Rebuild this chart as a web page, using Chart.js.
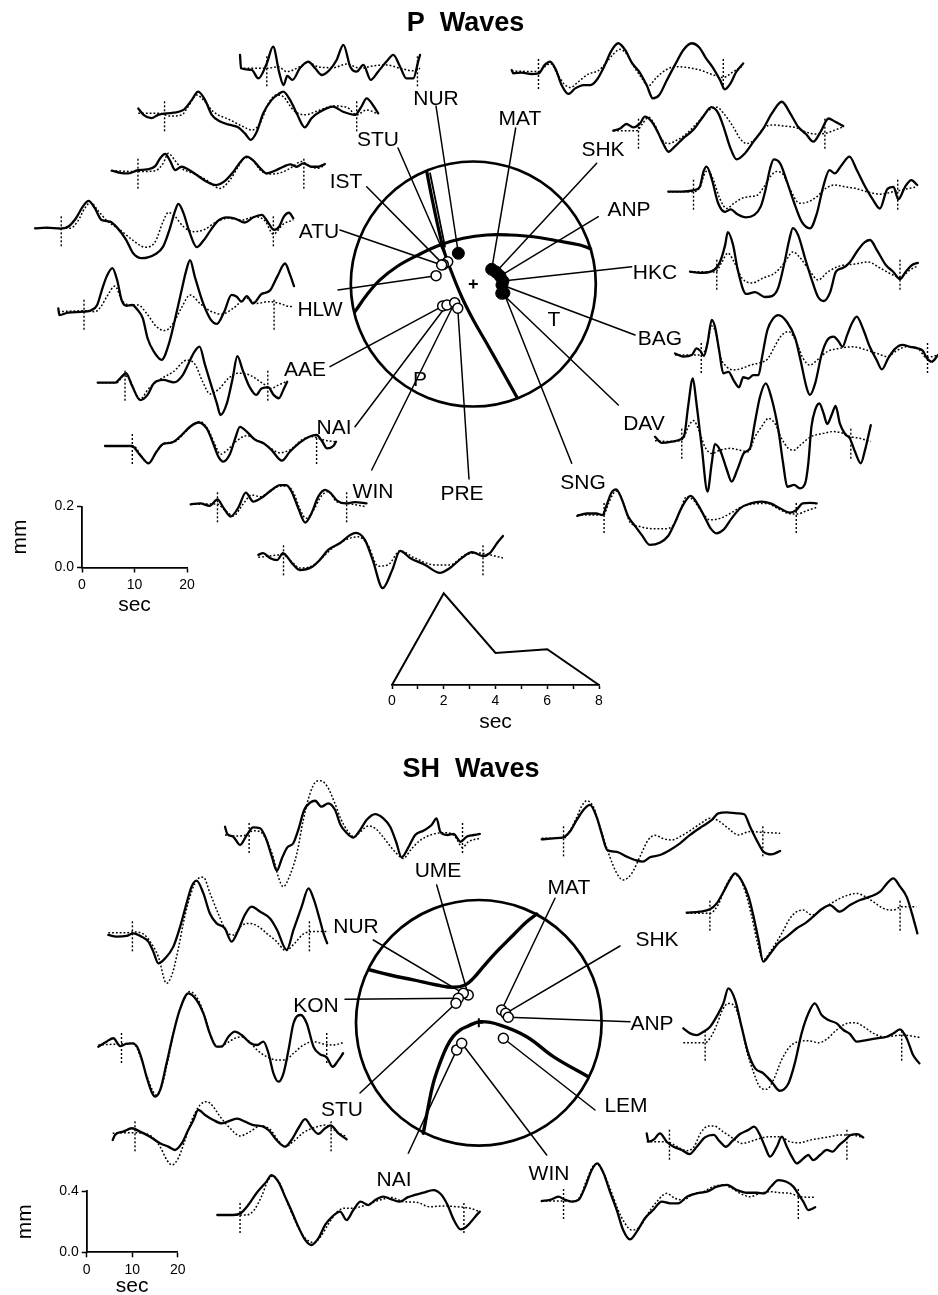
<!DOCTYPE html>
<html lang="en">
<head>
<meta charset="utf-8">
<title>P and SH waveform fits</title>
<script src="https://cdn.jsdelivr.net/npm/chart.js@4.4.1/dist/chart.umd.min.js"></script>
<style>
  html, body { margin:0; padding:0; background:#fff; }
  #page { position:relative; width:938px; height:1295px; overflow:hidden; background:#fff; }
  .layer { position:absolute; }
  canvas { display:block; }
</style>
</head>
<body>
<div id="page"></div>
<script>
const FONT = "'Liberation Sans', Arial, Helvetica, sans-serif";

// ---------------- P waves: stations, first motions, focal-sphere positions ----------------
const pStations   = ['NUR','STU','IST','ATU','HLW','AAE','NAI','WIN','PRE','MAT','SHK','ANP','HKC','BAG','DAV','SNG'];
const pFirstMotion = ['c','d','d','d','d','d','d','d','d','c','c','c','c','c','c','c'];
const pSphereU = [-0.122,-0.209,-0.245,-0.258,-0.304,-0.250,-0.215,-0.152,-0.127, 0.150, 0.185, 0.218, 0.242, 0.234, 0.232, 0.250];
const pSphereV = [ 0.251, 0.182, 0.160, 0.155, 0.068,-0.180,-0.171,-0.153,-0.198, 0.120, 0.098, 0.065, 0.024,-0.008,-0.076,-0.073];
// inversion window (s after trace start)
const pWinStart = [5.1,5.0,5.0,5.0,4.9,5.2,5.2,5.1,4.8,5.1,4.8,4.8,5.1,5.0,5.1,5.1];
const pWinEnd   = [33.8,41.6,36.6,45.4,41.1,32.4,40.3,29.7,42.8,40.3,40.3,43.7,40.0,48.1,37.3,41.7];

// P nodal planes, unit-radius projection coordinates [east, north]
const pPlaneA = [[-0.966,-0.226],[-0.870,-0.090],[-0.762,0.033],[-0.625,0.141],[-0.462,0.231],[-0.272,0.318],[-0.082,0.373],[0.109,0.400],[0.300,0.400],[0.490,0.386],[0.681,0.353],[0.871,0.318],[0.958,0.287]];
const pPlaneB = [[-0.380,0.917],[-0.340,0.713],[-0.294,0.496],[-0.245,0.291],[-0.184,0.114],[-0.095,-0.104],[0,-0.294],[0.109,-0.484],[0.232,-0.702],[0.354,-0.920]];
const pPlaneB2 = [[-0.353,0.904],[-0.231,0.305]];

// P seismograms: [time (s), displacement (mm)]; obs = observed, syn = synthetic
const pObsNUR = [[0,0.044],[0.2,0],[2.2,-0.005],[3.5,-0.033],[5.1,0.016],[6.3,0.071],[7.5,-0.016],[8.3,-0.055],[9.0,-0.025],[10.0,-0.038],[11.4,0],[13.0,0.022],[14.3,0],[15.6,-0.022],[17.1,-0.005],[18.4,0.027],[19.7,0.077],[21.0,0.005],[22.2,-0.011],[23.5,0.011],[24.9,-0.038],[26.3,-0.011],[27.9,0.022],[29.2,0.044],[30.5,0.005],[31.7,-0.033],[33.0,-0.033],[34.0,0.027],[34.3,0.044]];
const pSynNUR = [[0,0],[5.1,0],[7.3,0.005],[8.9,-0.011],[11.4,0.005],[13.0,0.019],[14.9,0.005],[17.8,0.002],[20.3,0.014],[22.9,0],[25.4,0.008],[27.9,0.011],[30.5,0],[33.0,-0.008],[34.3,0]];
const pObsSTU = [[0,0.016],[1.0,-0.005],[2.5,-0.016],[3.8,-0.005],[6.7,0.002],[8.6,0.011],[10.2,0.044],[11.4,0.071],[12.7,0.044],[14.0,-0.005],[15.6,-0.027],[17.5,-0.038],[19.0,-0.046],[20.3,-0.066],[21.4,-0.087],[22.5,-0.063],[23.8,0],[25.4,0.044],[26.7,0.063],[27.6,0.071],[28.9,0.044],[30.3,-0.005],[31.7,-0.046],[33.0,-0.016],[34.6,0.005],[37.1,0.022],[39.0,0.005],[41.3,-0.005],[42.5,0.022],[43.5,0.049],[44.8,0.024],[45.7,0]];
const pSynSTU = [[0,0],[4.1,0],[6.0,-0.009],[8.3,-0.005],[9.5,0.022],[11.1,0.060],[12.4,0.044],[14.3,0.005],[17.5,-0.022],[20.0,-0.044],[21.6,-0.055],[23.2,-0.033],[24.8,0.033],[26.3,0.060],[27.6,0.055],[29.5,0.011],[31.7,-0.005],[34.6,0.011],[37.1,0.024],[39.7,0.020],[41.6,-0.005],[43.5,0.011],[45.4,0]];
const pObsIST = [[0,0],[1.6,-0.007],[3.2,-0.009],[5.0,0.002],[6.7,0.004],[8.3,0.015],[9.2,0.040],[10.2,0.055],[11.1,0.033],[12.1,0.002],[13.3,0.013],[14.6,0.004],[16.2,-0.014],[18.1,-0.036],[19.9,-0.047],[21.4,-0.036],[23.2,-0.003],[24.6,0.030],[25.7,0.046],[27.0,0.033],[28.3,0.008],[29.5,-0.009],[31.1,0],[32.7,0.013],[34.0,0.021],[35.2,0.013],[36.5,0.024],[38.1,0.013],[39.4,0.013],[40.6,0.022]];
const pSynIST = [[0,0],[5.1,-0.003],[8.3,0],[9.8,0.024],[10.8,0.057],[11.9,0.037],[13.3,0.008],[15.6,-0.009],[18.1,-0.031],[20.6,-0.058],[22.5,-0.031],[24.1,0.013],[25.4,0.043],[26.7,0.037],[28.3,0.002],[29.8,-0.011],[32.1,-0.007],[34.0,0.008],[36.2,0.030],[37.8,0.013],[39.4,0.008],[40.6,0.019]];
const pObsATU = [[0,0],[2.2,0.002],[4.8,-0.001],[6.3,0.005],[7.8,0.033],[9.1,0.071],[10.2,0.090],[11.4,0.066],[12.7,0.027],[14.3,0.022],[15.6,0.003],[17.3,-0.036],[18.7,-0.082],[20.3,-0.098],[22.9,-0.085],[24.4,-0.060],[25.7,0],[26.7,0.058],[27.3,0.080],[28.3,0.049],[29.4,-0.011],[30.8,-0.062],[32.1,-0.040],[33.5,-0.005],[34.9,0.025],[36.5,0.036],[38.1,0.032],[40.0,0.019],[41.6,0.036],[43.2,0.044],[44.4,0.019],[45.5,-0.005],[46.5,0.005],[47.4,0.038],[48.4,0.051],[49.2,0.033]];
const pSynATU = [[0,0],[6.7,0],[8.1,0.022],[9.5,0.066],[10.6,0.085],[11.9,0.060],[13.7,0.025],[16.2,-0.005],[18.7,-0.040],[21.0,-0.062],[22.9,-0.044],[24.4,0.022],[25.4,0.052],[26.7,0.038],[28.3,0.005],[30.2,-0.011],[32.4,-0.003],[34.3,0.019],[36.8,0.033],[39.4,0.027],[41.9,0.038],[43.8,0.025],[45.4,-0.019],[47.3,0.014],[49.2,0.027]];
const pObsHLW = [[0,0.011],[0.2,-0.011],[1.9,-0.003],[4.8,0],[6.3,0.005],[7.4,0.022],[8.3,0.071],[9.2,0.115],[10.3,0.143],[11.2,0.104],[12.1,0.036],[13.0,0.019],[14.1,0.022],[15.0,0.008],[16.1,-0.022],[17.0,-0.087],[18.2,-0.131],[19.7,-0.158],[21.0,-0.109],[22.2,-0.027],[23.5,0.071],[24.4,0.137],[25.1,0.169],[26.0,0.115],[27.6,0.027],[29.0,-0.025],[30.2,-0.040],[31.6,0],[33.0,0.055],[34.0,0.049],[34.9,0.033],[35.9,0.051],[37.1,0.027],[38.7,0.058],[40.3,0.069],[41.7,0.115],[43.2,0.158],[44.1,0.123],[44.9,0.084]];
const pSynHLW = [[0,0],[4.8,0.003],[7.0,0],[8.1,0.016],[9.3,0.051],[10.8,0.084],[12.1,0.038],[13.7,0.022],[15.2,0.022],[16.8,-0.005],[18.7,-0.049],[20.3,-0.062],[21.9,-0.038],[23.5,0.014],[25.1,0.055],[27.0,0.027],[28.9,0.003],[31.1,-0.008],[33.3,0.011],[35.9,0.044],[37.8,0.027],[40.0,0.033],[42.2,0.027],[43.5,0.019],[44.8,0.016]];
const pObsAAE = [[0,0],[3.3,0],[4.4,0.017],[5.4,0.031],[6.5,-0.008],[8.1,-0.057],[9.5,-0.040],[10.7,-0.002],[12.5,0.009],[14.5,0.001],[16.2,0.025],[17.3,0.063],[18.3,0.098],[19.4,0.118],[20.4,0.061],[21.7,-0.013],[22.7,-0.068],[23.4,-0.106],[24.6,-0.068],[25.7,0.014],[26.6,0.087],[27.6,0.042],[28.9,-0.013],[30.2,-0.040],[31.2,-0.019],[32.5,-0.015],[33.5,-0.040],[34.5,-0.051],[35.4,-0.022],[36.1,0.003]];
const pSynAAE = [[0,0],[3.6,0],[5.0,0.022],[6.0,0.014],[7.1,-0.030],[8.1,-0.054],[9.7,-0.019],[11.9,0.011],[14.4,0.036],[17.0,0.074],[18.5,0.061],[20.0,0.003],[21.4,-0.037],[23.0,-0.022],[24.9,0.014],[26.6,0.031],[28.5,0.028],[31.6,-0.004],[33.0,-0.019],[34.4,-0.008],[36.1,0.005]];
const pObsNAI = [[0,0],[5.1,0],[6.7,-0.030],[8.3,-0.057],[9.8,-0.019],[11.1,0.007],[12.7,0.011],[14.6,0.036],[16.2,0.063],[17.8,0.077],[19.4,0.057],[20.6,0.009],[21.6,-0.035],[22.5,-0.051],[23.8,-0.026],[24.8,0.025],[25.7,0.063],[27.0,0.047],[28.6,0.020],[30.2,0.009],[31.7,-0.013],[33.7,-0.048],[35.2,-0.019],[37.1,0.011],[39.0,0.031],[40.3,0.036],[41.3,0.017],[42.3,-0.008],[43.5,0],[44.0,0.014]];
const pSynNAI = [[0,0],[5.4,0],[7.0,-0.035],[8.3,-0.055],[9.8,-0.019],[11.4,0.009],[13.3,0.014],[15.2,0.044],[17.0,0.072],[18.1,0.080],[19.7,0.052],[21.0,0.003],[22.0,-0.027],[23.3,-0.013],[25.1,0.017],[27.0,0.034],[28.9,0.020],[31.1,-0.002],[33.3,-0.022],[35.4,-0.011],[37.5,0.020],[39.4,0.031],[41.0,0.023],[42.5,0.017],[44.0,0.014]];
const pObsWIN = [[0,0],[1.8,0.003],[3.6,-0.005],[5.1,0.016],[6.2,-0.010],[7.6,-0.040],[9.1,-0.010],[10.5,0.038],[11.9,0.009],[13.8,0.025],[15.4,0.047],[17.0,0.063],[18.2,0.063],[19.2,0.042],[20.5,-0.013],[21.8,-0.060],[23.0,-0.030],[24.3,0.025],[25.6,0.047],[26.7,0.036],[27.9,0.012],[29.4,0.003],[31.3,0.007],[33.5,0.003]];
const pSynWIN = [[0,0],[5.0,0.001],[6.5,-0.019],[8.1,-0.038],[10.0,0.001],[11.6,0.031],[13.2,0.025],[15.1,0.042],[17.1,0.060],[18.4,0.060],[19.7,0.034],[20.8,-0.016],[22.0,-0.046],[23.4,-0.019],[24.8,0.025],[26.2,0.042],[27.8,0.009],[29.7,0.003],[33.5,-0.008]];
const pObsPRE = [[0,0.008],[0.9,0.014],[2.2,-0.002],[3.6,-0.009],[4.7,0.014],[6.4,-0.019],[7.9,-0.042],[10.2,-0.032],[11.7,-0.009],[13.3,0.024],[15.6,0.047],[17.5,0.073],[18.6,0.080],[20.3,0.057],[21.8,-0.009],[23.7,-0.101],[25.5,-0.042],[27.0,0.021],[28.9,-0.002],[31.8,-0.025],[34.6,-0.051],[36.5,-0.035],[38.8,-0.002],[40.7,0.017],[42.8,0.004],[44.1,0.014],[45.5,0.047],[46.6,0.070]];
const pSynPRE = [[0,0],[4.7,0.008],[6.4,-0.015],[7.9,-0.035],[10.2,-0.029],[12.1,-0.002],[14.6,0.037],[17.5,0.063],[19.0,0.067],[20.9,0.040],[22.8,-0.029],[24.7,-0.025],[27.0,0.021],[29.8,-0.002],[33.6,-0.025],[36.5,-0.025],[39.4,0.008],[42.2,0.014],[45.1,0.004],[46.6,-0.002]];
const pObsMAT = [[0,0.003],[0.3,-0.008],[1.9,-0.005],[3.8,-0.010],[5.1,-0.008],[6.3,0.020],[7.3,0.031],[8.4,0.005],[9.5,-0.046],[10.8,-0.075],[12.1,-0.057],[13.7,-0.046],[15.0,-0.046],[16.3,-0.027],[17.6,0.014],[19.0,0.067],[20.3,0.091],[21.6,0.069],[22.9,0.027],[24.4,-0.005],[25.7,-0.046],[26.9,-0.090],[28.1,-0.079],[29.5,-0.032],[31.1,0.020],[32.7,0.069],[34.3,0.091],[35.7,0.078],[37.0,0.042],[38.4,0.009],[39.7,-0.030],[40.6,-0.060],[41.7,-0.040],[42.7,-0.005],[44.1,0.025]];
const pSynMAT = [[0,0],[5.1,-0.002],[6.3,0.014],[7.4,0.025],[8.7,-0.010],[10.0,-0.043],[11.2,-0.054],[12.7,-0.035],[14.6,-0.010],[16.5,0.001],[18.0,0.027],[19.4,0.056],[20.6,0.071],[21.9,0.056],[23.3,0.014],[24.8,-0.024],[26.0,-0.049],[27.6,-0.021],[29.5,0.005],[31.4,0.014],[33.7,0.011],[35.9,0.003],[38.4,-0.013],[40.3,-0.021],[42.2,-0.002],[43.8,0.014]];
const pObsSHK = [[0,0],[1.3,0.007],[2.5,0.022],[3.8,0.011],[5.1,0.024],[6.0,0.046],[7.3,0.030],[8.6,-0.009],[9.5,-0.042],[10.5,-0.069],[11.7,-0.052],[13.3,-0.025],[15.2,0.002],[17.1,0.046],[18.7,0.077],[20.0,0.057],[21.1,0.008],[22.2,-0.052],[23.5,-0.094],[25.1,-0.074],[26.7,-0.036],[28.6,0.008],[30.2,0.057],[32.1,0.095],[33.7,0.057],[35.2,0.013],[36.7,-0.011],[38.1,-0.036],[39.5,-0.003],[41.0,0.040],[42.2,0.030],[43.8,0.015]];
const pSynSHK = [[0,0],[4.4,0],[5.7,0.026],[6.7,0.044],[7.9,0.019],[9.2,-0.028],[10.5,-0.042],[12.1,-0.031],[14.0,-0.009],[16.2,0.030],[18.1,0.066],[19.7,0.077],[21.1,0.055],[22.9,0.011],[24.1,-0.025],[25.4,-0.042],[27.0,-0.028],[28.6,0.008],[30.5,0.019],[32.7,0.015],[34.6,0.011],[36.5,-0.003],[38.4,-0.011],[40.3,-0.009],[42.2,0.002],[43.8,0.013]];
const pObsANP = [[0,0],[2.5,0],[4.9,0.005],[6.0,0.016],[6.7,0.066],[7.3,0.082],[8.3,0.040],[9.5,-0.038],[10.8,-0.066],[11.9,-0.058],[13.1,-0.073],[14.8,-0.084],[16.3,-0.077],[17.6,-0.049],[18.5,0.005],[19.4,0.077],[20.1,0.106],[21.3,0.093],[22.5,0.038],[23.9,-0.033],[25.4,-0.098],[27.0,-0.120],[28.3,-0.071],[29.5,0.016],[30.7,0.071],[31.7,0.060],[33.0,0.087],[34.5,0.115],[35.9,0.071],[37.5,0.016],[39.0,-0.027],[40.3,-0.055],[41.7,0.008],[42.9,0.016],[43.8,-0.025],[45.1,0.016],[46.3,0.038],[47.4,0.022]];
const pSynANP = [[0,0],[4.8,0],[6.0,0.014],[7.0,0.062],[7.6,0.069],[8.6,0.038],[9.8,-0.022],[11.1,-0.055],[12.5,-0.038],[14.0,-0.022],[15.6,-0.016],[17.0,-0.011],[18.2,0.016],[19.5,0.051],[20.6,0.066],[21.8,0.058],[23.2,0.008],[25.0,-0.038],[26.7,-0.033],[28.3,-0.016],[30.0,0.011],[31.7,0.022],[33.7,0.016],[35.6,0.011],[37.8,0],[40.3,-0.008],[42.9,0],[45.1,0.008],[47.4,0.016]];
const pObsHKC = [[0,0],[1.9,-0.004],[4.2,0.002],[5.7,0.032],[6.7,0.088],[7.2,0.130],[8.2,0.088],[9.1,0.006],[10.7,-0.073],[12.4,-0.067],[14.3,-0.083],[15.6,-0.080],[16.8,-0.053],[17.9,0.022],[18.9,0.104],[19.6,0.143],[20.6,0.120],[21.9,0.045],[23.2,-0.027],[24.4,-0.083],[25.5,-0.096],[26.7,-0.067],[27.8,0],[29.1,0.012],[30.5,0.032],[32.0,0.071],[33.3,0.097],[34.3,0.104],[35.6,0.071],[37.3,0.022],[38.7,0],[40.0,-0.024],[41.1,0],[42.3,0.022],[43.4,0.029]];
const pSynHKC = [[0,0],[4.8,-0.001],[6.1,0.032],[7.2,0.061],[8.4,0.032],[9.9,-0.021],[11.8,-0.037],[13.9,-0.021],[16.2,-0.004],[18.1,0.032],[19.6,0.065],[21.0,0.045],[22.9,0],[24.4,-0.027],[26.3,0],[28.6,0.019],[31.4,0.025],[33.9,0.032],[36.2,0.012],[38.7,-0.011],[40.0,-0.018],[41.9,0.006],[43.4,0.019]];
const pObsBAG = [[0,0.005],[1.6,-0.005],[3.2,0],[4.1,0.022],[4.8,0.014],[5.5,-0.003],[6.2,0.040],[7.0,0.115],[7.6,0.093],[8.4,0.016],[9.2,-0.060],[10.2,-0.055],[11.2,-0.084],[12.2,-0.106],[13.0,-0.073],[14.0,-0.077],[14.9,-0.066],[15.9,-0.066],[16.6,-0.005],[17.6,0.082],[18.7,0.120],[19.7,0.131],[21.3,0.109],[22.9,0.055],[23.9,-0.016],[25.1,-0.109],[25.7,-0.131],[26.7,-0.093],[27.9,0],[29.0,0.049],[30.2,0.060],[31.1,0.046],[31.9,0.027],[32.8,0.066],[33.7,0.104],[34.6,0.126],[35.9,0.082],[37.1,0.027],[38.4,-0.016],[39.4,-0.047],[40.6,-0.011],[41.9,0.020],[43.3,0.033],[44.8,0.027],[46.2,0.022],[47.2,0.014],[47.9,-0.008],[48.9,-0.022],[50.1,0]];
const pSynBAG = [[0,0],[4.8,0],[6.0,0.025],[7.0,0.095],[7.8,0.071],[8.6,-0.003],[9.8,-0.038],[11.2,-0.049],[12.7,-0.044],[14.4,-0.033],[16.2,-0.025],[17.6,-0.014],[18.9,0.025],[20.1,0.060],[21.6,0.077],[23.0,0.047],[24.4,-0.011],[25.7,-0.033],[27.1,-0.016],[29.0,0.011],[31.4,0.022],[34.0,0.027],[36.5,0.016],[38.5,0.005],[40.4,-0.005],[42.2,0.014],[44.1,0.027],[46.2,0.022],[47.9,-0.008],[50.1,0]];
const pObsDAV = [[0,0.013],[1.3,-0.007],[3.2,-0.003],[4.8,0.004],[5.6,0.019],[6.3,0.111],[7.2,0.204],[7.9,0.122],[8.9,-0.020],[10.0,-0.167],[10.8,-0.074],[11.4,-0.011],[12.4,-0.031],[13.7,-0.096],[14.6,-0.134],[15.7,-0.094],[17.0,-0.039],[18.1,-0.025],[19.0,0.057],[20.0,0.144],[21.1,0.188],[22.2,0.139],[23.5,0.035],[24.4,-0.074],[25.2,-0.151],[26.5,-0.145],[27.6,-0.156],[28.6,-0.140],[29.2,-0.074],[29.8,0.046],[30.5,0.101],[31.3,0.122],[32.1,0.090],[32.8,0.055],[33.7,0.087],[34.4,0.114],[35.2,0.057],[36.2,0.022],[37.1,0.008],[38.1,-0.036],[39.2,-0.074],[40.0,-0.031],[40.6,0.013],[41.1,0.051]];
const pSynDAV = [[0,0],[3.5,-0.003],[5.4,0.008],[6.3,0.044],[7.3,0.066],[8.3,0.037],[9.5,-0.020],[10.8,-0.042],[12.4,-0.031],[14.3,-0.025],[16.2,-0.031],[17.8,-0.036],[19.0,0.011],[20.3,0.046],[21.6,0.073],[22.9,0.055],[24.1,0.008],[25.4,-0.025],[26.5,-0.031],[27.7,-0.014],[29.7,0.013],[32.1,0.024],[34.0,0.030],[35.9,0.024],[37.3,0.013],[39.0,0.008],[41.1,-0.003]];
const pObsSNG = [[0,-0.003],[1.8,0.005],[3.6,0.005],[4.8,0],[5.6,0.033],[6.5,0.073],[7.4,0.084],[8.4,0.055],[9.7,-0.005],[11.0,-0.036],[12.3,-0.066],[13.8,-0.098],[15.7,-0.091],[17.3,-0.069],[18.6,-0.025],[19.9,0.025],[21.6,0.063],[23.0,0.033],[24.3,-0.008],[25.4,-0.044],[26.5,-0.060],[27.8,-0.049],[29.4,-0.011],[31.0,0.022],[33.0,0.038],[35.1,0.044],[36.8,0.038],[38.6,0.022],[40.5,0.008],[41.7,0.016],[42.9,0.038],[44.3,0.040],[45.6,0.038]];
const pSynSNG = [[0,0],[5.0,0],[5.9,0.036],[6.9,0.071],[7.6,0.079],[8.8,0.038],[10.0,-0.022],[11.9,-0.038],[14.5,-0.045],[16.7,-0.045],[18.3,-0.033],[19.6,0.014],[20.8,0.060],[22.1,0.049],[23.7,0.011],[25.3,-0.016],[27.2,-0.011],[29.1,0.005],[31.1,0.025],[33.5,0.036],[36.1,0.038],[38.1,0.022],[40.2,0.005],[41.8,0.003],[43.7,0.014],[45.6,0.025]];

// ---------------- SH waves ----------------
const shStations = ['UME','NUR','KON','STU','NAI','MAT','SHK','ANP','LEM','WIN'];
const shSphereU = [-0.086,-0.126,-0.167,-0.186,-0.180, 0.186, 0.219, 0.240, 0.200,-0.139];
const shSphereV = [ 0.226, 0.240, 0.200, 0.159,-0.221, 0.104, 0.077, 0.045,-0.126,-0.167];
const shWinStart = [5.3,5.3,5.1,4.9,5.0,4.8,5.1,4.8,5.0,4.8];
const shWinEnd   = [52.2,44.2,50.2,48.0,54.2,48.6,46.9,48.0,44.0,56.4];

// SH nodal curves [east, north]
const shPlaneUpper = [[-0.886,0.430],[-0.723,0.389],[-0.533,0.349],[-0.343,0.308],[-0.208,0.289],[-0.112,0.308],[-0.045,0.362],[0.037,0.457],[0.146,0.579],[0.281,0.715],[0.390,0.823],[0.472,0.886]];
const shPlaneLower = [[-0.452,-0.900],[-0.414,-0.696],[-0.371,-0.493],[-0.316,-0.327],[-0.261,-0.195],[-0.210,-0.113],[-0.153,-0.059],[-0.099,-0.032],[0.010,0.009],[0.173,-0.018],[0.390,-0.113],[0.607,-0.275],[0.892,-0.439]];

const shObsUME = [[0,0.054],[0.5,0.007],[1.8,-0.011],[3.3,-0.065],[4.8,0],[6.2,0.050],[7.7,0.044],[9.0,-0.022],[10.3,-0.142],[11.4,-0.233],[12.5,-0.153],[13.7,-0.081],[15.0,-0.054],[16.1,0.033],[17.4,0.163],[18.7,0.211],[19.8,0.224],[21.2,0.185],[22.7,0.207],[24.2,0.163],[25.4,0.065],[26.7,0.015],[28.2,-0.017],[29.7,0.033],[31.1,0.098],[33.0,0.137],[34.8,0.109],[36.3,0.054],[37.6,-0.044],[38.8,-0.146],[40.3,-0.081],[41.8,0],[43.6,0.028],[45.4,0.065],[46.5,0.109],[47.3,0.022],[48.9,0],[50.2,0.007],[51.8,-0.044],[53.1,-0.011],[54.6,0],[56.0,0.007]];
const shSynUME = [[0,0],[2.6,-0.007],[4.8,0.002],[6.2,0.028],[7.7,0.022],[9.2,-0.037],[10.6,-0.146],[11.7,-0.272],[12.8,-0.338],[14.3,-0.261],[15.8,-0.120],[17.2,0.098],[18.7,0.272],[20.0,0.349],[21.0,0.355],[22.5,0.316],[24.0,0.218],[25.4,0.109],[26.9,0.028],[28.4,-0.011],[29.8,0.022],[31.5,0.059],[33.0,0.044],[34.4,0],[36.1,-0.065],[37.7,-0.120],[39.2,-0.153],[40.8,-0.098],[42.5,-0.044],[44.3,-0.011],[46.5,0.011],[48.7,0.015],[50.5,-0.007],[52.2,-0.081],[53.5,-0.044],[56.0,-0.022]];
const shObsNUR = [[0,-0.011],[1.8,-0.022],[4.0,-0.017],[5.5,0],[7.3,-0.022],[8.8,-0.054],[9.9,-0.120],[11.0,-0.196],[12.5,-0.163],[14.3,-0.087],[15.8,0.044],[17.2,0.196],[18.3,0.305],[19.4,0.344],[20.9,0.261],[22.3,0.131],[23.8,0.065],[25.6,0.033],[27.1,-0.054],[28.6,0.022],[30.0,0.120],[31.5,0.174],[33.3,0.142],[35.5,0.098],[37.1,0.022],[39.2,-0.109],[40.7,0.022],[42.5,0.174],[44.0,0.294],[45.2,0.218],[46.5,0.087],[47.3,0],[48.1,-0.065]];
const shSynNUR = [[0,0.004],[4.0,0.004],[5.5,0.009],[7.7,-0.004],[9.2,-0.054],[11.0,-0.153],[12.8,-0.327],[14.1,-0.261],[15.4,-0.098],[16.8,0.109],[18.3,0.272],[19.8,0.359],[20.9,0.366],[22.3,0.266],[24.2,0.126],[26.0,0.011],[27.5,-0.011],[29.3,0.050],[31.1,0.065],[33.0,0.044],[34.8,0],[37.0,-0.054],[39.0,-0.113],[40.8,-0.070],[42.9,-0.004],[45.1,0.011],[48.1,0.011]];
const shObsKON = [[0,-0.011],[1.8,0.022],[3.3,0.044],[4.8,-0.007],[6.1,0.007],[7.5,0.011],[8.6,-0.015],[9.5,-0.087],[10.6,-0.207],[11.7,-0.305],[12.5,-0.338],[13.6,-0.294],[15.0,-0.120],[16.5,0.076],[17.9,0.229],[19.8,0.338],[21.6,0.294],[23.1,0.207],[24.5,0.076],[26.0,-0.011],[27.1,-0.011],[28.6,0.054],[30.0,0.087],[31.5,0.065],[33.5,0.011],[34.9,0],[36.3,0.022],[37.4,-0.054],[38.5,-0.185],[39.6,-0.240],[40.7,-0.185],[41.8,-0.033],[42.9,0.142],[44.5,0.196],[45.8,0.142],[47.3,-0.011],[48.7,-0.059],[50.2,-0.081],[51.5,-0.142],[52.7,-0.102],[53.8,-0.054]];
const shSynKON = [[0,0],[4.8,0.007],[7.7,0.011],[9.2,-0.072],[10.6,-0.196],[11.7,-0.283],[12.7,-0.327],[13.9,-0.272],[15.4,-0.087],[16.8,0.120],[18.3,0.261],[20.1,0.349],[22.0,0.294],[23.4,0.185],[24.9,0.044],[26.4,-0.011],[28.2,0.011],[30.0,0.044],[31.5,0.054],[33.2,0.022],[34.9,-0.033],[37.0,-0.076],[39.2,-0.098],[41.0,-0.098],[42.9,-0.054],[45.1,0],[47.3,0.022],[49.5,0.007],[51.6,0],[53.8,0.015]];
const shObsSTU = [[0,-0.044],[0.5,-0.011],[2.3,0.011],[4.2,0.033],[6.0,0.011],[8.2,-0.022],[10.4,-0.065],[12.2,-0.087],[13.7,-0.109],[15.2,-0.065],[16.6,0.022],[17.7,0.083],[18.8,0.153],[20.3,0.120],[22.1,0.087],[24.0,0.065],[25.8,0.083],[27.4,0.096],[29.1,0.076],[30.9,0.054],[33.1,0.044],[34.4,0.017],[36.0,-0.044],[37.9,-0.087],[39.3,-0.044],[40.8,0.033],[42.3,0.092],[43.7,0.039],[45.2,-0.004],[46.7,0.033],[47.9,0.052],[49.6,0],[51.4,-0.039]];
const shSynSTU = [[0,0],[3.1,0.004],[6.7,0],[8.6,-0.022],[10.4,-0.087],[11.9,-0.174],[13.0,-0.207],[14.4,-0.163],[15.9,-0.044],[17.4,0.087],[19.2,0.185],[20.7,0.207],[22.1,0.174],[23.6,0.109],[25.8,0.033],[28.0,-0.017],[30.2,0.011],[32.4,0.048],[34.6,0.026],[36.4,-0.048],[37.9,-0.087],[39.7,-0.054],[41.9,0.004],[44.5,0.039],[46.7,0.054],[48.1,0.033],[49.6,0.004],[51.4,-0.022]];
const shObsNAI = [[0,0],[3.5,0],[5.1,0.011],[6.8,0.065],[8.6,0.142],[10.8,0.218],[11.9,0.261],[13.4,0.218],[14.9,0.120],[16.3,0.028],[17.8,-0.076],[19.3,-0.163],[20.7,-0.196],[22.2,-0.153],[23.7,-0.065],[25.1,-0.015],[27.0,0.022],[28.4,-0.033],[29.9,0.033],[31.5,0.087],[33.2,0.065],[34.7,0.098],[36.5,0.120],[38.3,0.102],[40.1,0.087],[41.8,0.115],[43.4,0.131],[45.3,0.146],[47.5,0.163],[49.1,0.137],[50.5,0.072],[52.0,-0.033],[53.5,-0.094],[57.7,0.022]];
const shSynNAI = [[0,0],[6.4,0],[8.1,0.033],[9.7,0.120],[11.2,0.229],[12.2,0.255],[13.8,0.203],[15.2,0.098],[16.7,-0.011],[18.5,-0.120],[20.0,-0.168],[21.2,-0.181],[22.7,-0.142],[24.4,-0.059],[26.2,0.015],[27.8,0.044],[29.5,0.044],[31.5,0.054],[33.6,0.076],[35.8,0.098],[38.3,0.115],[40.9,0.087],[43.8,0.083],[46.7,0.054],[49.7,0.059],[52.6,0.054],[55.5,0.044],[57.7,0.022]];
const shObsMAT = [[0,-0.007],[2.6,0],[4.8,0.007],[6.2,0.044],[7.7,0.120],[9.5,0.196],[10.6,0.218],[12.1,0.137],[13.2,0.028],[14.4,-0.076],[16.5,-0.089],[18.7,-0.120],[20.5,-0.142],[22.2,-0.153],[23.8,-0.124],[26.0,-0.109],[28.2,-0.076],[30.4,-0.033],[32.6,0.022],[35.2,0.076],[37.4,0.120],[38.8,0.163],[40.7,0.170],[42.9,0.163],[44.5,0.157],[45.8,0.076],[47.3,-0.015],[48.7,-0.087],[50.5,-0.105],[52.4,-0.083]];
const shSynMAT = [[0,0],[4.8,0],[6.2,0.050],[7.7,0.137],[8.8,0.211],[9.9,0.246],[11.4,0.203],[12.8,0.076],[14.7,-0.098],[16.5,-0.229],[17.9,-0.272],[19.8,-0.229],[21.6,-0.120],[23.4,-0.011],[24.9,0.020],[26.7,-0.002],[28.6,-0.011],[30.4,0.011],[32.6,0.050],[34.8,0.094],[37.0,0.131],[38.8,0.115],[41.0,0.065],[43.2,0.022],[45.8,0.044],[48.4,0.039],[52.4,0.033]];
const shObsSHK = [[0,0],[2.9,0.007],[5.1,0.022],[6.6,0.061],[8.1,0.137],[9.5,0.214],[10.6,0.257],[12.1,0.209],[13.6,0.105],[14.7,-0.026],[15.8,-0.179],[16.8,-0.320],[18.3,-0.270],[20.1,-0.200],[22.0,-0.157],[24.2,-0.102],[26.0,-0.070],[27.8,-0.026],[29.7,0.024],[31.5,0.050],[33.6,0.007],[35.9,0.050],[38.1,0.083],[40.3,0.105],[42.5,0.137],[43.9,0.187],[45.4,0.224],[46.9,0.170],[48.4,0.100],[49.5,-0.004],[50.7,-0.135]];
const shSynSHK = [[0,-0.004],[5.1,-0.004],[7.0,0.057],[8.8,0.187],[10.3,0.246],[11.4,0.235],[12.8,0.144],[14.3,-0.026],[15.5,-0.190],[16.8,-0.309],[18.6,-0.244],[20.9,-0.135],[22.7,-0.037],[24.2,0.007],[25.6,0.017],[27.5,-0.015],[29.3,0.013],[31.5,0.057],[33.7,0.094],[35.5,0.115],[37.4,0.126],[39.2,0.105],[41.0,0.072],[43.2,0.028],[45.4,0.017],[47.3,0.039],[50.5,0.039]];
const shObsANP = [[0,0.094],[1.5,0.061],[2.9,0.050],[4.4,0.072],[5.9,0.105],[7.3,0.170],[8.8,0.257],[9.9,0.355],[11.4,0.279],[12.8,0.105],[14.3,-0.070],[15.8,-0.168],[17.6,-0.200],[19.4,-0.255],[21.2,-0.314],[23.1,-0.266],[24.5,-0.135],[26.0,0.061],[27.5,0.192],[28.9,0.257],[30.4,0.181],[31.9,0.148],[33.7,0.126],[35.2,0.083],[36.6,0.057],[38.1,0.007],[40.3,0.017],[42.5,0.028],[44.7,0.039],[46.2,0.061],[47.6,0.087],[49.1,0.028],[50.5,-0.081],[51.9,-0.135]];
const shSynANP = [[0,0],[4.8,0],[6.0,0.035],[7.2,0.105],[8.6,0.214],[9.9,0.257],[11.4,0.231],[12.8,0.105],[13.9,-0.048],[15.4,-0.190],[16.8,-0.288],[18.3,-0.305],[19.8,-0.244],[21.6,-0.113],[23.4,-0.026],[25.3,0.007],[27.5,0.013],[29.7,0],[31.5,0.022],[33.7,0.083],[35.9,0.126],[37.7,0.131],[39.6,0.105],[41.8,0.061],[44.0,0.039],[46.2,0.044],[48.4,0.050],[51.9,0.035]];
const shObsLEM = [[0,0.054],[0.4,0],[1.6,0.015],[2.9,0.054],[4.4,0],[5.9,-0.033],[7.7,-0.054],[9.4,-0.081],[11.0,-0.033],[12.8,0.028],[14.7,0.044],[16.1,0],[17.4,-0.033],[18.7,0],[20.5,0.050],[22.3,0.076],[23.6,0.098],[24.9,0.044],[26.0,-0.033],[27.1,-0.098],[28.6,-0.033],[29.7,0.033],[30.8,-0.033],[31.9,-0.098],[33.0,-0.142],[34.4,-0.111],[35.5,-0.087],[36.6,-0.120],[38.1,-0.087],[39.6,-0.054],[40.8,-0.065],[42.3,-0.022],[43.6,0.011],[44.8,0.044],[46.3,0.050],[47.6,0.028]];
const shSynLEM = [[0,0],[2.9,0],[5.1,-0.007],[6.7,-0.033],[8.8,-0.059],[10.4,-0.033],[11.9,0.059],[13.6,0.102],[14.8,0.102],[16.8,0.065],[19.0,0.022],[20.9,-0.011],[22.7,0],[24.9,0.022],[27.1,0.033],[29.3,0.033],[31.5,0],[33.7,-0.007],[35.9,0.011],[38.1,0.022],[40.3,0.033],[42.5,0.044],[44.7,0.044],[47.6,0.028]];
const shObsWIN = [[0,0],[1.8,0.007],[3.7,0.028],[4.9,0.011],[6.6,-0.004],[8.1,0.007],[9.5,0.089],[11.0,0.203],[12.2,0.246],[13.6,0.181],[15.0,0.061],[16.5,-0.059],[17.9,-0.190],[19.4,-0.251],[20.9,-0.200],[22.7,-0.113],[24.5,-0.059],[26.4,-0.004],[28.2,-0.015],[30.0,-0.015],[31.9,0.028],[34.1,0.050],[36.3,0.061],[38.5,0.094],[40.7,0.105],[42.9,0.072],[45.1,0.054],[47.3,0.054],[48.9,0.050],[50.5,0.098],[52.0,0.137],[53.8,0.126],[55.3,0.094],[56.4,0.046],[57.5,-0.004],[58.6,-0.059],[60.1,-0.041]];
const shSynWIN = [[0,0],[4.8,0],[7.0,-0.004],[8.4,0.028],[9.9,0.137],[11.2,0.224],[12.1,0.242],[13.6,0.181],[15.2,0.068],[16.8,-0.059],[18.3,-0.146],[19.8,-0.190],[21.6,-0.168],[23.4,-0.081],[25.3,-0.004],[27.5,0.050],[29.3,0.017],[31.1,0.007],[33.3,0.046],[35.5,0.061],[37.7,0.094],[39.9,0.105],[41.8,0.083],[43.6,0.050],[45.8,0.028],[48.0,0.050],[50.2,0.061],[52.4,0.054],[54.6,0.050],[56.8,0.028],[60.1,0.024]];

// source time function
const stfTime = [0, 2, 4, 6, 8];
const stfAmp  = [0, 1, 0.35, 0.39, 0];
const stfTickValues = [0, 1, 2, 3, 4, 5, 6, 7, 8];
// scale-bar axes
const pBarSecTicks = [0, 10, 20];
const pBarMmTicks  = [0, 0.2];
const shBarSecTicks = [0, 10, 20];
const shBarMmTicks  = [0, 0.4];

const pObs = [pObsNUR,pObsSTU,pObsIST,pObsATU,pObsHLW,pObsAAE,pObsNAI,pObsWIN,pObsPRE,pObsMAT,pObsSHK,pObsANP,pObsHKC,pObsBAG,pObsDAV,pObsSNG];
const pSyn = [pSynNUR,pSynSTU,pSynIST,pSynATU,pSynHLW,pSynAAE,pSynNAI,pSynWIN,pSynPRE,pSynMAT,pSynSHK,pSynANP,pSynHKC,pSynBAG,pSynDAV,pSynSNG];
const shObs = [shObsUME,shObsNUR,shObsKON,shObsSTU,shObsNAI,shObsMAT,shObsSHK,shObsANP,shObsLEM,shObsWIN];
const shSyn = [shSynUME,shSynNUR,shSynKON,shSynSTU,shSynNAI,shSynMAT,shSynSHK,shSynANP,shSynLEM,shSynWIN];

// ---------------- page layout ----------------
const PAGE_W = 938, PAGE_H = 1295;
const P_SEC_PX = 5.25, P_MM_PX = 305, SH_SEC_PX = 4.55, SH_MM_PX = 153;
const P_SPHERE  = {cx:473.3, cy:284,    r:122.5};
const SH_SPHERE = {cx:478.8, cy:1022.8, r:122.8};
const P_ORIGIN = [[240,68.3],[138.3,113.3],[111.7,170.7],[35,228.3],[58.3,311.7],[97.7,382.7],[105,446],[190.7,504.3],[258.3,557.3],[511.7,71],[613.3,130.7],[668.3,191.7],[690,271.7],[675,355],[655,440.7],[577.3,515]];
const P_LABEL_AT = [[436,97],[378,138],[346,180],[319,230],[320,308],[305,368],[334,426],[373,490],[462,492],[520,117],[603,148],[629,208],[655,271],[660,337],[644,422],[583,481]];
const P_LABEL_LINE = [[436,106],[398,148],[366.7,186.7],[340,230],[338,290],[330,366.7],[355,426.7],[371.7,470],[469,479],[515.7,128],[596.7,163.3],[598.3,216.7],[631.7,266.7],[635,335],[618.3,405],[571.7,463.3]];
const SH_ORIGIN = [[225,835],[108.3,933.3],[98.3,1045],[112.7,1133.3],[217.3,1215],[541.7,838.3],[686.7,912.7],[683.3,1042.7],[646.7,1141.7],[541.7,1201]];
const SH_LABEL_AT = [[438,869],[356,925],[316,1004],[342,1108],[394,1178],[569,886],[657,938],[652,1022],[626,1104],[549,1172]];
const SH_LABEL_LINE = [[436.7,885],[373.3,940],[345,999.3],[360,1093],[408.3,1153.3],[555,898.3],[620,946],[630,1021.7],[595,1110],[546.7,1155]];
const TICK_UP = 12, TICK_DOWN = 20;

Chart.defaults.font.family = FONT;
Chart.defaults.color = '#000';

const page = document.getElementById('page');
function layer(left, top, w, h) {
  const d = document.createElement('div');
  d.className = 'layer';
  Object.assign(d.style, {left: left + 'px', top: top + 'px', width: w + 'px', height: h + 'px'});
  const c = document.createElement('canvas');
  c.width = w; c.height = h;
  d.appendChild(c); page.appendChild(d);
  return c;
}

// ---------------- main drawing: traces, spheres, labels ----------------
const seis = (pts, o, secPx, mmPx) => pts.map(p => ({x: o[0] + p[0] * secPx, y: o[1] - p[1] * mmPx}));
const onSphere = (sp, u, v) => ({x: sp.cx + u * sp.r, y: sp.cy - v * sp.r});

const datasets = [];
function line(pts, o) {
  datasets.push(Object.assign({data: pts, showLine: true, pointRadius: 0, pointHoverRadius: 0,
    borderColor: '#000', backgroundColor: '#000', fill: false, clip: false, order: 5,
    borderCapStyle: 'round', borderJoinStyle: 'round'}, o));
}

function addPanel(obs, syn, origins, ws, we, secPx, mmPx) {
  obs.forEach((_, i) => {
    const o = origins[i];
    line(seis(syn[i], o, secPx, mmPx), {borderWidth: 1.5, borderDash: [1.8, 2], borderCapStyle: 'butt', cubicInterpolationMode: 'monotone'});
    line(seis(obs[i], o, secPx, mmPx), {borderWidth: 2.3, cubicInterpolationMode: 'monotone'});
    [ws[i], we[i]].forEach(t => {
      const x = o[0] + t * secPx;
      line([{x, y: o[1] - TICK_UP}, {x, y: o[1] + TICK_DOWN}], {borderWidth: 1.4, borderDash: [2, 2], borderCapStyle: 'butt'});
    });
  });
}

function addSphere(sp, planes, U, V, pol, labelLine) {
  datasets.push({data: [{x: sp.cx, y: sp.cy}], showLine: false, pointRadius: sp.r, pointHoverRadius: sp.r,
    pointBorderWidth: 2.7, pointBorderColor: '#000', pointBackgroundColor: 'rgba(0,0,0,0)', order: 4, clip: false});
  planes.forEach(pl => line(pl.pts.map(p => onSphere(sp, p[0], p[1])), {borderWidth: pl.w, tension: 0.4, order: 3}));
  U.forEach((u, i) => line([{x: labelLine[i][0], y: labelLine[i][1]}, onSphere(sp, u, V[i])], {borderWidth: 1.5, order: 3}));
  const open = [], filled = [];
  U.forEach((u, i) => (pol[i] === 'c' ? filled : open).push(onSphere(sp, u, V[i])));
  datasets.push({data: open, showLine: false, pointRadius: 5, pointHoverRadius: 5, pointBorderWidth: 1.5,
    pointBorderColor: '#000', pointBackgroundColor: '#fff', order: 1});
  if (filled.length) datasets.push({data: filled, showLine: false, pointRadius: 6, pointHoverRadius: 6, pointBorderWidth: 1,
    pointBorderColor: '#000', pointBackgroundColor: '#000', order: 1});
  datasets.push({data: [{x: sp.cx, y: sp.cy}], showLine: false, pointStyle: 'cross', pointRadius: 4.5, pointHoverRadius: 4.5,
    pointBorderWidth: 2, pointBorderColor: '#000', order: 1});
}

addPanel(pObs, pSyn, P_ORIGIN, pWinStart, pWinEnd, P_SEC_PX, P_MM_PX);
addPanel(shObs, shSyn, SH_ORIGIN, shWinStart, shWinEnd, SH_SEC_PX, SH_MM_PX);
addSphere(P_SPHERE, [{pts: pPlaneA, w: 3.2}, {pts: pPlaneB, w: 3.2}, {pts: pPlaneB2, w: 1.8}],
  pSphereU, pSphereV, pFirstMotion, P_LABEL_LINE);
addSphere(SH_SPHERE, [{pts: shPlaneUpper, w: 3.4}, {pts: shPlaneLower, w: 3.4}],
  shSphereU, shSphereV, shStations.map(() => 'd'), SH_LABEL_LINE);

const LABEL_FONT = `21px ${FONT}`;
const TEXTS = [
  {text: 'P  Waves', x: 465.5, y: 31, font: `bold 27px ${FONT}`},
  {text: 'SH  Waves', x: 471, y: 777, font: `bold 27px ${FONT}`},
  {text: 'T', x: 554, y: 325.5, font: LABEL_FONT},
  {text: 'P', x: 420, y: 385.5, font: LABEL_FONT}
];
pStations.forEach((n, i) => TEXTS.push({text: n, x: P_LABEL_AT[i][0], y: P_LABEL_AT[i][1] + 7.5, font: LABEL_FONT}));
shStations.forEach((n, i) => TEXTS.push({text: n, x: SH_LABEL_AT[i][0], y: SH_LABEL_AT[i][1] + 7.5, font: LABEL_FONT}));

const pageText = {
  id: 'pageText',
  afterDatasetsDraw(chart) {
    const ctx = chart.ctx, sx = chart.scales.x, sy = chart.scales.y;
    ctx.save();
    ctx.fillStyle = '#000';
    ctx.textAlign = 'center';
    ctx.textBaseline = 'alphabetic';
    TEXTS.forEach(t => {
      ctx.font = t.font;
      ctx.fillText(t.text, sx.getPixelForValue(t.x), sy.getPixelForValue(t.y));
    });
    ctx.restore();
  }
};

new Chart(layer(0, 0, PAGE_W, PAGE_H), {
  type: 'scatter',
  data: {datasets},
  options: {
    responsive: false, animation: false, devicePixelRatio: 1, events: [],
    layout: {padding: 0, autoPadding: false},
    plugins: {legend: {display: false}, tooltip: {enabled: false}},
    scales: {
      x: {type: 'linear', min: 0, max: PAGE_W, display: false},
      y: {type: 'linear', min: 0, max: PAGE_H, reverse: true, display: false}
    }
  },
  plugins: [pageText]
});

// ---------------- small axis charts: amplitude/time scale bars and source time function ----------------
const gridTicks = {display: true, drawOnChartArea: false, drawTicks: true, tickLength: 5, color: '#000', tickColor: '#000', tickWidth: 1.5};
const axisBorder = {display: true, color: '#000', width: 1.8};

function xAxis(values, title, titlePadBottom, labelFn, tickLen) {
  return {
    type: 'linear', position: 'bottom', min: values[0], max: values[values.length - 1],
    afterBuildTicks: s => { s.ticks = values.map(v => ({value: v})); },
    ticks: {color: '#000', font: {family: FONT, size: 14}, padding: 4, maxRotation: 0, autoSkip: false,
      callback: labelFn || (v => String(v))},
    grid: Object.assign({}, gridTicks, {tickLength: tickLen || 5}),
    border: axisBorder,
    title: {display: true, text: title, color: '#000', font: {family: FONT, size: 21}, padding: {top: 0, bottom: titlePadBottom}}
  };
}
function yAxis(values, title, titlePadTop) {
  return {
    type: 'linear', position: 'left', min: values[0], max: values[values.length - 1],
    afterBuildTicks: s => { s.ticks = values.map(v => ({value: v})); },
    ticks: {color: '#000', font: {family: FONT, size: 14}, padding: 3, callback: v => Number(v).toFixed(1)},
    grid: gridTicks,
    border: axisBorder,
    title: {display: true, text: title, color: '#000', font: {family: FONT, size: 21}, padding: {top: titlePadTop, bottom: 0}}
  };
}

function axisChart(box, area, xs, ys, data) {
  const yW = area.l - box.left;
  const xH = box.top + box.height - area.b;
  xs.afterFit = s => { s.height = xH; };
  const hiddenY = ys.display === false;
  if (!hiddenY) ys.afterFit = s => { s.width = yW; };
  return new Chart(layer(box.left, box.top, box.width, box.height), {
    type: 'scatter',
    data: {datasets: data},
    options: {
      responsive: false, animation: false, devicePixelRatio: 1, events: [],
      layout: {autoPadding: false, padding: {left: hiddenY ? yW : 0, top: area.t - box.top, right: box.left + box.width - area.r, bottom: 0}},
      plugins: {legend: {display: false}, tooltip: {enabled: false}},
      scales: {x: xs, y: ys}
    }
  });
}

// P amplitude / time scale
axisChart({left: 0, top: 480, width: 230, height: 138}, {l: 82, t: 506.5, r: 187, b: 567.5},
  xAxis(pBarSecTicks, 'sec', 0), yAxis(pBarMmTicks, 'mm', 7.4), []);
// SH amplitude / time scale
axisChart({left: 0, top: 1160, width: 230, height: 139}, {l: 86.7, t: 1191, r: 177.7, b: 1252.3},
  xAxis(shBarSecTicks, 'sec', 0), yAxis(shBarMmTicks, 'mm', 12.4), []);
// source time function
axisChart({left: 370, top: 570, width: 260, height: 165}, {l: 392, t: 593.3, r: 599, b: 685},
  xAxis(stfTickValues, 'sec', 0, v => (v % 2 === 0 ? String(v) : ''), 4),
  {type: 'linear', min: 0, max: 1, display: false},
  [{data: stfTime.map((t, i) => ({x: t, y: stfAmp[i]})), showLine: true, pointRadius: 0, borderColor: '#000', borderWidth: 2, clip: false}]);
</script>
</body>
</html>
